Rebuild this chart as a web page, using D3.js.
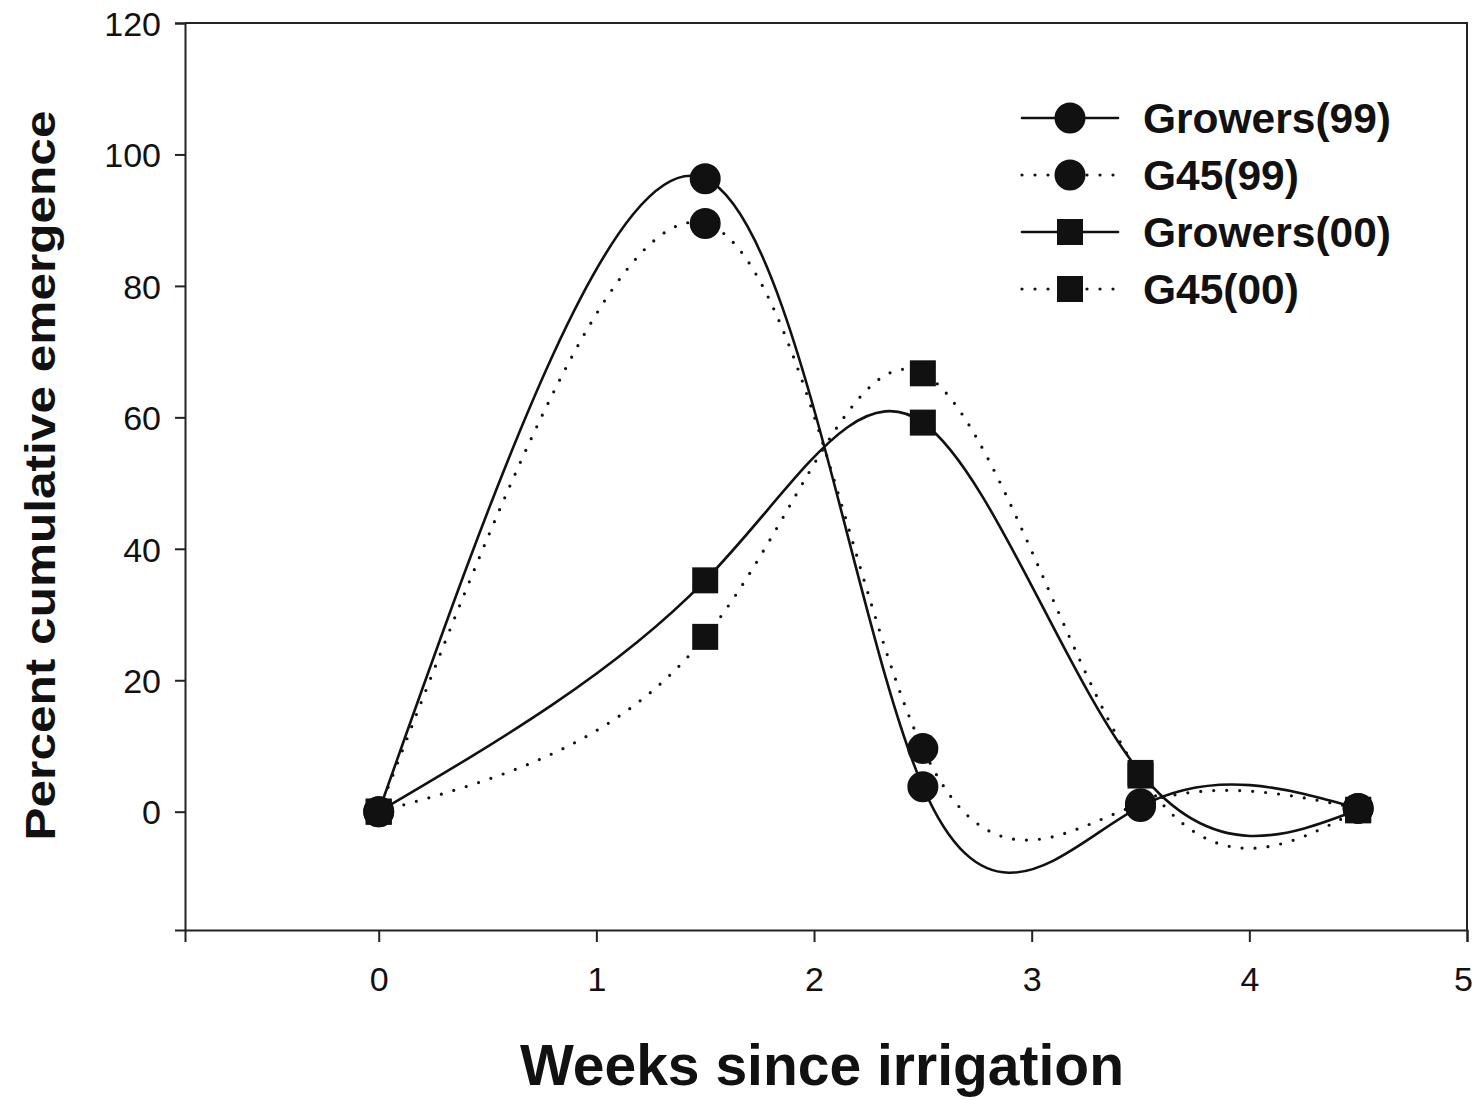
<!DOCTYPE html>
<html>
<head>
<meta charset="utf-8">
<script src="https://cdn.jsdelivr.net/npm/d3@7/dist/d3.min.js"></script>
<style>
  html, body { margin: 0; padding: 0; background: #fff; }
  svg { display: block; }
  text { font-family: "Liberation Sans", Arial, sans-serif; fill: #111; }
</style>
</head>
<body>
<svg id="chart" width="1476" height="1100"></svg>
<script>
// ---- data ----
const weeks = [0, 1.5, 2.5, 3.5, 4.5];
const growers99 = [0, 96.3, 3.8, 0.8, 0.5];
const g45_99 = [0, 89.5, 9.6, 1.2, 0.5];
const growers00 = [0, 35.2, 59.2, 5.9, 0.3];
const g45_00 = [0, 26.6, 66.7, 5.5, 0.2];
const seriesNames = ["Growers(99)", "G45(99)", "Growers(00)", "G45(00)"];
const xTicks = [0, 1, 2, 3, 4, 5];
const yTicks = [0, 20, 40, 60, 80, 100, 120];

const series = [
  { name: seriesNames[0], values: growers99, marker: "circle", dotted: false },
  { name: seriesNames[1], values: g45_99, marker: "circle", dotted: true },
  { name: seriesNames[2], values: growers00, marker: "square", dotted: false },
  { name: seriesNames[3], values: g45_00, marker: "square", dotted: true }
];

// ---- layout ----
const pL = 185, pT = 23, pR = 1467, pB = 930;
const svg = d3.select("#chart");
const x = d3.scaleLinear().domain([-0.89, 5]).range([pL, pR]);
const y = d3.scaleLinear().domain([-18, 120]).range([pB, pT]);

const line = d3.line()
  .x((d, i) => x(weeks[i]))
  .y(d => y(d))
  .curve(d3.curveNatural);

// frame (top & right)
svg.append("path")
  .attr("d", `M${pL},${pT}H${pR}V${pB}`)
  .attr("fill", "none").attr("stroke", "#222").attr("stroke-width", 2);

// axes
const yAxis = svg.append("g").attr("transform", `translate(${pL},0)`)
  .call(d3.axisLeft(y).tickValues(yTicks).tickFormat(d3.format("d")).tickSize(10).tickPadding(14));
const xAxis = svg.append("g").attr("transform", `translate(0,${pB})`)
  .call(d3.axisBottom(x).tickValues(xTicks).tickFormat(d3.format("d")).tickSize(12).tickPadding(25));
[yAxis, xAxis].forEach(g => {
  g.select(".domain").attr("stroke", "#222").attr("stroke-width", 2);
  g.selectAll(".tick line").attr("stroke", "#222").attr("stroke-width", 2);
  g.selectAll(".tick text").style("font-size", "34px").style("font-family", "'Liberation Sans', Arial, sans-serif").attr("fill", "#111");
});
yAxis.selectAll(".tick text").attr("dy", "0.36em");
xAxis.selectAll(".tick text").filter(d => d === 5).attr("dx", -4);

// lines
series.forEach(s => {
  svg.append("path")
    .attr("d", line(s.values))
    .attr("fill", "none")
    .attr("stroke", "#111")
    .attr("stroke-width", s.dotted ? 3.2 : 2.6)
    .attr("stroke-linecap", "round")
    .attr("stroke-dasharray", s.dotted ? "0 13" : null);
});

// markers
function drawMarker(g, type, cx, cy) {
  if (type === "circle") {
    g.append("circle").attr("cx", cx).attr("cy", cy).attr("r", 15.5).attr("fill", "#111");
  } else {
    g.append("rect").attr("x", cx - 13).attr("y", cy - 13).attr("width", 26).attr("height", 26).attr("fill", "#111");
  }
}
const mg = svg.append("g");
series.forEach(s => {
  weeks.forEach((w, i) => drawMarker(mg, s.marker, x(w), y(s.values[i])));
});

// legend
const lg = svg.append("g");
const legX0 = 1022, legX1 = 1118, legTextX = 1143, legY0 = 118, legDy = 57;
series.forEach((s, i) => {
  const ly = legY0 + i * legDy;
  lg.append("line").attr("x1", legX0).attr("x2", legX1).attr("y1", ly).attr("y2", ly)
    .attr("stroke", "#111")
    .attr("stroke-width", s.dotted ? 3.2 : 2.6)
    .attr("stroke-linecap", "round")
    .attr("stroke-dasharray", s.dotted ? "0 13" : null);
  drawMarker(lg, s.marker, (legX0 + legX1) / 2, ly);
  lg.append("text").attr("x", legTextX).attr("y", ly).attr("dy", "0.36em")
    .style("font-size", "42.5px").style("font-weight", "bold")
    .text(s.name);
});

// axis titles
svg.append("text")
  .attr("transform", `translate(55,${(pT + pB) / 2 - 1}) rotate(-90)`)
  .attr("text-anchor", "middle")
  .style("font-size", "42px").style("font-weight", "bold")
  .attr("textLength", 730).attr("lengthAdjust", "spacingAndGlyphs")
  .text("Percent cumulative emergence");

svg.append("text")
  .attr("x", 822).attr("y", 1085)
  .attr("text-anchor", "middle")
  .style("font-size", "57px").style("font-weight", "bold")
  .text("Weeks since irrigation");
</script>
</body>
</html>
